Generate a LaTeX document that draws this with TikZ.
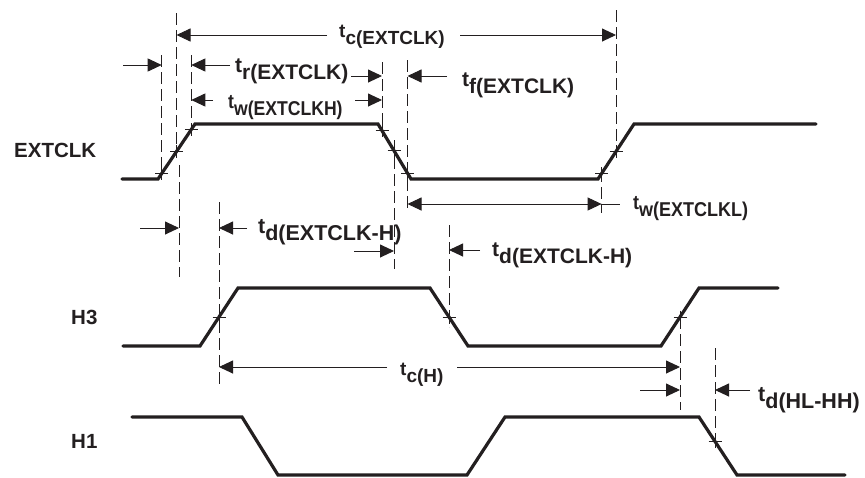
\documentclass[tikz,border=0pt]{standalone}
\usepackage{fontspec}
\setmainfont{Liberation Sans}
\usetikzlibrary{arrows.meta}
\definecolor{ink}{HTML}{231F20}
\newcommand\tlbl[2]{{\fontsize{#1}{#1}\selectfont\bfseries\raisebox{0.32em}{t}#2}}
\begin{document}
\begin{tikzpicture}[x=1pt,y=-1pt,
  wave/.style={draw=ink,line width=3.2pt,line join=miter,line cap=round},
  guide/.style={draw=ink,line width=0.8pt,dash pattern=on 12pt off 5pt},
  dim/.style={draw=ink,line width=0.9pt},
  tipe/.style={dim,-{Triangle[length=14pt,width=13pt]}},
  tipb/.style={dim,{Triangle[length=14pt,width=13pt]}-{Triangle[length=14pt,width=13pt]}},
  tick/.style={draw=ink,line width=0.8pt},
  lab/.style={inner sep=0pt,anchor=base west,text=ink},
  sig/.style={inner sep=0pt,anchor=base west,text=ink,font=\fontsize{20.5}{21}\selectfont\bfseries}]
\useasboundingbox (0,0) rectangle (865,477);
\fill[white] (0,0) rectangle (865,477);

% signal names
\node[sig] (nE) at (14,157) {EXTCLK};
\node[sig] (nH3) at (71,324) {H3};
\node[sig] (nH1) at (71,448) {H1};

% waveforms
\draw[wave] (122,179) -- (158,179) -- (195,124) -- (378,124) -- (411,179) -- (598,179) -- (634,124) -- (816,124);
\draw[wave] (123,346) -- (200,346) -- (238,288) -- (430,288) -- (468,346) -- (661,346) -- (699,288) -- (778,288);
\draw[wave] (132,417) -- (242,417) -- (278,475) -- (467,475) -- (505,417) -- (699,417) -- (737,475) -- (845,475);

% crosses
\foreach \p in {(161.7,173.5),(176.5,151.5),(191.3,129.5),(382,130.7),(394,150.7),(407.5,173.2),(601.6,173.5),(616,151.5),(219,317),(449,317),(680,317),(715,441.4)}
  \draw[tick] \p ++(-6.5,0) -- ++(13,0) \p ++(0,-6.5) -- ++(0,13);

% guide lines
\draw[guide] (161.7,55) -- (161.7,174);
\draw[guide] (176.5,13) -- (176.5,152);
\draw[guide] (191.3,55) -- (191.3,130);
\draw[guide] (179,165) -- (179,277);
\draw[guide] (382,62) -- (382,131);
\draw[guide] (394,140) -- (394,269);
\draw[guide] (407.5,60) -- (407.5,210);
\draw[guide] (616,10) -- (616,155);
\draw[guide] (601.6,170) -- (601.6,213);
\draw[guide] (219,202) -- (219,387);
\draw[guide] (449,225) -- (449,327);
\draw[guide] (680,317) -- (680,410);
\draw[guide] (715,348) -- (715,442);

% labels
\node[lab] (tcE) at (339,44) {\tlbl{19}{c(EXTCLK)}};
\node[lab] (trE) at (235,79) {\tlbl{21}{r(EXTCLK)}};
\node[lab] (twH) at (228,115) {\scalebox{0.88}[1]{\tlbl{20}{w(EXTCLKH)}}};
\node[lab] (tfE) at (462,93) {\tlbl{21}{f(EXTCLK)}};
\node[lab] (twL) at (633,216) {\scalebox{0.9}[1]{\tlbl{20}{w(EXTCLKL)}}};
\node[lab] (td1) at (258,240) {\tlbl{21.5}{d(EXTCLK-H)}};
\node[lab] (td2) at (492,263) {\tlbl{21}{d(EXTCLK-H)}};
\node[lab] (tcH) at (400,382) {\tlbl{19}{c(H)}};
\node[lab] (tdHL) at (758,408) {\tlbl{21.5}{d(HL-HH)}};

% dimension arrows
\draw[tipe] (327,35) -- (176.5,35);
\draw[tipe] (460,35) -- (616,35);
\draw[tipe] (123,65) -- (161.7,65);
\draw[tipe] (230,65) -- (191.3,65);
\draw[tipe] (351,76) -- (382,76);
\draw[tipe] (447,76) -- (407.5,76);
\draw[tipe] (213,100) -- (191.3,100);
\draw[tipe] (355,100) -- (382,100);
\draw[tipb] (407.5,204) -- (601.6,204);
\draw[dim] (601.6,204) -- (620,204);
\draw[tipe] (140,228) -- (179,228);
\draw[tipe] (247,228) -- (219,228);
\draw[tipe] (354,251) -- (394,251);
\draw[tipe] (480,250) -- (449,250);
\draw[tipe] (387,367) -- (219,367);
\draw[tipe] (457,367) -- (680,367);
\draw[tipe] (640,390) -- (680,390);
\draw[tipe] (750,390) -- (715,390);
\end{tikzpicture}
\end{document}
